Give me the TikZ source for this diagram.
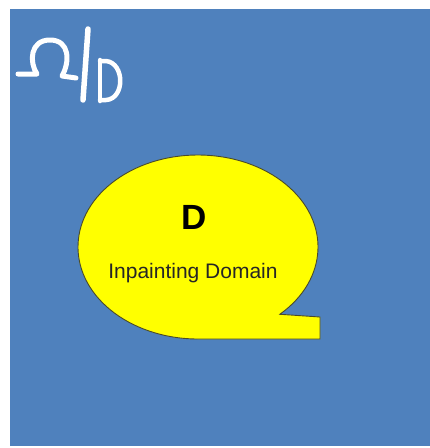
\documentclass[tikz,border=0pt]{standalone}
\usepackage{fontspec}
\setmainfont{Liberation Sans}
\usetikzlibrary{calc}
\definecolor{bgblue}{HTML}{4F81BD}
\definecolor{domyellow}{HTML}{FFFF00}
\definecolor{edgedark}{HTML}{4A4A2A}
\tikzset{
  hand/.style={draw=white, line width=5pt, line cap=round, line join=round},
  bubble/.style={fill=domyellow, draw=edgedark, line width=0.9pt},
}
\begin{document}
\begin{tikzpicture}[x=1pt, y=-1pt]
\useasboundingbox (0,0) rectangle (430,448);
\fill[white] (0,0) rectangle (430,448);
% blue background
\fill[bgblue] (10,9) rectangle (430,446);
% Omega / D symbol
\draw[hand] (18,74) -- (37,74) .. controls (29,62) and (30,40) .. (50,40)
  .. controls (70,40) and (70,62) .. (62,76) -- (76,78);
\draw[hand, line width=5.5pt] (88,29) -- (83,100);
\draw[hand, line width=4.5pt] (100,60) -- (100,101);
\draw[hand, line width=4.5pt] (100,61) -- (106,61) .. controls (125,63) and (125,99) .. (106,100) -- (100,100);
% inpainting domain
\path[bubble] (320,317) -- ($(198,247)+(47:120 and 92)$)
  arc[start angle=47, end angle=-270, x radius=120, y radius=92]
  -- (320,339) -- cycle;
\node[font=\bfseries\fontsize{35}{35}\selectfont, anchor=base] (d) at (194,229) {D};
\node[font=\fontsize{21}{21}\selectfont, anchor=base, text=black!85] (lbl) at (193,278) {Inpainting Domain};
\end{tikzpicture}
\end{document}
